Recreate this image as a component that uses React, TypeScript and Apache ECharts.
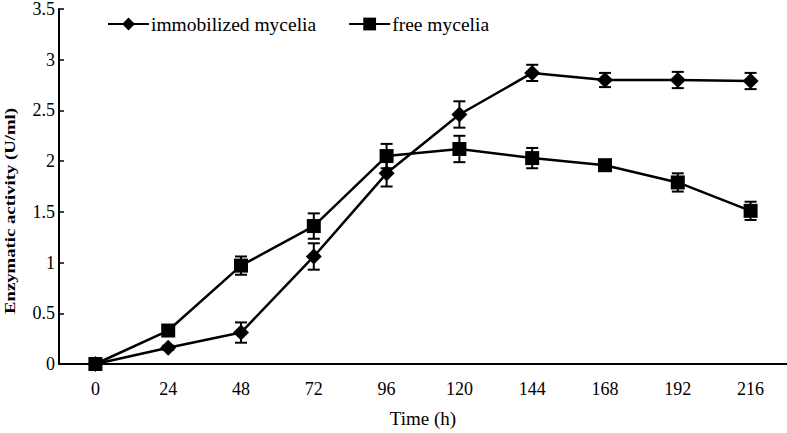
import React, { useEffect, useRef } from "react";
import * as echarts from "echarts";

const categories = ["0", "24", "48", "72", "96", "120", "144", "168", "192", "216"];
const immobilized = [0, 0.16, 0.31, 1.06, 1.88, 2.46, 2.87, 2.8, 2.8, 2.79];
const immobilizedErr = [0, 0.02, 0.1, 0.13, 0.13, 0.13, 0.08, 0.07, 0.08, 0.08];
const free = [0, 0.33, 0.97, 1.36, 2.05, 2.12, 2.03, 1.96, 1.79, 1.51];
const freeErr = [0, 0.02, 0.09, 0.125, 0.12, 0.13, 0.1, 0.04, 0.09, 0.09];
const seriesNames = ["immobilized mycelia", "free mycelia"];

const FONT = "'Liberation Serif', 'Times New Roman', serif";

function errData(vals: number[], errs: number[]) {
  return vals.map((v, i) => [i, v - errs[i], v + errs[i]]);
}

const renderErr = (params: any, api: any) => {
  const i = api.value(0);
  const lo = api.coord([i, api.value(1)]);
  const hi = api.coord([i, api.value(2)]);
  const x = lo[0];
  const cap = 6;
  const style = { stroke: "#000", lineWidth: 2 };
  return {
    type: "group",
    children: [
      { type: "line", shape: { x1: x, y1: lo[1], x2: x, y2: hi[1] }, style },
      { type: "line", shape: { x1: x - cap, y1: lo[1], x2: x + cap, y2: lo[1] }, style },
      { type: "line", shape: { x1: x - cap, y1: hi[1], x2: x + cap, y2: hi[1] }, style },
    ],
  };
};

export default function App() {
  const ref = useRef<HTMLDivElement>(null);
  useEffect(() => {
    const chart = echarts.init(ref.current!, null, { renderer: "svg" });
    chart.setOption({
      animation: false,
      backgroundColor: "#fff",
      textStyle: { fontFamily: FONT, color: "#000" },
      grid: { left: 59, right: 0, top: 7, bottom: 64, containLabel: false },
      legend: {
        data: seriesNames,
        left: 107,
        top: 14,
        padding: 0,
        itemWidth: 41,
        itemHeight: 16,
        itemGap: 32,
        textStyle: { fontFamily: FONT, fontSize: 19.5, color: "#000", padding: [0, 0, 0, -3] },
      },
      graphic: [
        {
          type: "text",
          x: 10,
          y: 211,
          rotation: Math.PI / 2,
          scaleX: 1.25,
          style: {
            text: "Enzymatic activity (U/ml)",
            fontFamily: FONT,
            fontSize: 15,
            fontWeight: "bold",
            fill: "#000",
            textAlign: "center",
            textVerticalAlign: "middle",
          },
        },
      ],
      xAxis: {
        type: "category",
        data: categories,
        boundaryGap: true,
        name: "Time (h)",
        nameLocation: "middle",
        nameGap: 45,
        nameTextStyle: { fontFamily: FONT, fontSize: 19, color: "#000" },
        axisLine: { lineStyle: { color: "#000", width: 2 } },
        axisTick: { inside: true, length: 8, lineStyle: { color: "#000", width: 1.5 } },
        axisLabel: { fontFamily: FONT, fontSize: 18, color: "#000", margin: 16 },
        splitLine: { show: false },
      },
      yAxis: {
        type: "value",
        min: 0,
        max: 3.5,
        interval: 0.5,
        axisLine: { show: true, lineStyle: { color: "#000", width: 2 } },
        axisTick: { show: true, inside: true, length: 5, lineStyle: { color: "#000", width: 1.5 } },
        axisLabel: { fontFamily: FONT, fontSize: 18, color: "#000", margin: 4 },
        splitLine: { show: false },
      },
      series: [
        {
          name: "immobilized err",
          type: "custom",
          renderItem: renderErr,
          data: errData(immobilized, immobilizedErr),
          encode: { x: 0, y: [1, 2] },
          z: 1,
          silent: true,
        },
        {
          name: "free err",
          type: "custom",
          renderItem: renderErr,
          data: errData(free, freeErr),
          encode: { x: 0, y: [1, 2] },
          z: 1,
          silent: true,
        },
        {
          name: seriesNames[0],
          type: "line",
          data: immobilized,
          symbol: "diamond",
          symbolSize: 16,
          lineStyle: { color: "#000", width: 2.5 },
          itemStyle: { color: "#000" },
          z: 3,
        },
        {
          name: seriesNames[1],
          type: "line",
          data: free,
          symbol: "rect",
          symbolSize: 14,
          lineStyle: { color: "#000", width: 2.5 },
          itemStyle: { color: "#000" },
          z: 3,
        },
      ],
    });
    return () => chart.dispose();
  }, []);
  return (
    <div
      ref={ref}
      style={{ position: "fixed", left: 0, top: 0, width: 787, height: 433 }}
    />
  );
}
